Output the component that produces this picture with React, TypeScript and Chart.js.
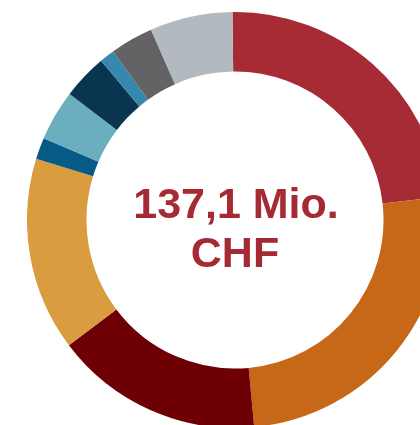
import React, { useEffect, useRef } from "react";
import { Chart, registerables } from "chart.js";

Chart.register(...registerables);

const categories = [
  "Kategorie 1",
  "Kategorie 2",
  "Kategorie 3",
  "Kategorie 4",
  "Kategorie 5",
  "Kategorie 6",
  "Kategorie 7",
  "Kategorie 8",
  "Kategorie 9",
  "Kategorie 10",
];
const valuesMio = [32.1, 34.7, 22.2, 20.6, 2.3, 5.4, 4.8, 1.6, 4.6, 8.8];
const colors = [
  "#a72b35",
  "#c66818",
  "#6e0005",
  "#d99c3e",
  "#055a86",
  "#6aaebf",
  "#0a3550",
  "#3688ad",
  "#636366",
  "#b2b9bf",
];
const centerLines = ["137,1 Mio.", "CHF"];

const centerTextPlugin = {
  id: "centerText",
  afterDraw(chart: any) {
    const meta = chart.getDatasetMeta(0);
    const arc = meta.data[0];
    if (!arc) return;
    const { x, y } = arc;
    const ctx = chart.ctx;
    ctx.save();
    ctx.fillStyle = "#a62a33";
    ctx.font = "bold 43px 'Liberation Sans', Arial, sans-serif";
    ctx.textAlign = "center";
    ctx.textBaseline = "alphabetic";
    ctx.fillText(centerLines[0], x + 1, y - 2);
    ctx.fillText(centerLines[1], x, y + 47);
    ctx.restore();
  },
};

export default function App() {
  const canvasRef = useRef<HTMLCanvasElement | null>(null);

  useEffect(() => {
    if (!canvasRef.current) return;
    const chart = new Chart(canvasRef.current, {
      type: "doughnut",
      data: {
        labels: categories,
        datasets: [
          {
            data: valuesMio,
            backgroundColor: colors,
            borderWidth: 0,
            hoverOffset: 0,
          },
        ],
      },
      options: {
        animation: false,
        responsive: true,
        maintainAspectRatio: false,
        cutout: "71.4%",
        rotation: -0.7,
        layout: { padding: 0 },
        plugins: {
          legend: { display: false },
          tooltip: { enabled: false },
          title: { display: false },
        },
      },
      plugins: [centerTextPlugin],
    });
    return () => chart.destroy();
  }, []);

  return (
    <div
      style={{
        position: "fixed",
        left: 0,
        top: 0,
        width: 420,
        height: 425,
        overflow: "hidden",
        background: "#ffffff",
      }}
    >
      <div
        style={{
          position: "absolute",
          left: 27,
          top: 12,
          width: 416,
          height: 416,
        }}
      >
        <canvas ref={canvasRef} />
      </div>
    </div>
  );
}
